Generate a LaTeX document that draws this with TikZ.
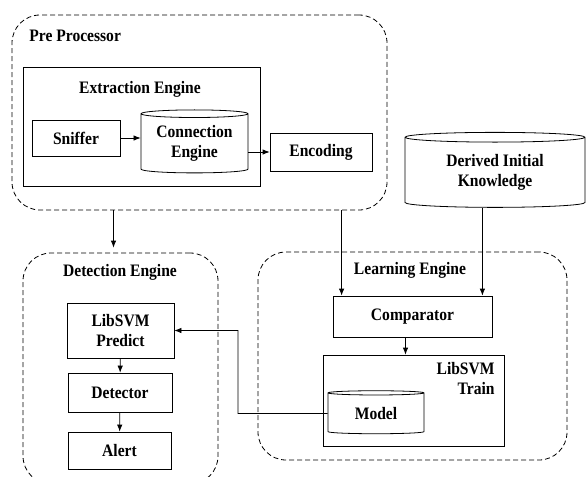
\documentclass[tikz,border=0pt]{standalone}
\usepackage{fontspec}
\setmainfont[FakeStretch=0.89]{Liberation Serif}
\usepackage{tikz}
\usetikzlibrary{shapes.geometric,arrows.meta,calc,positioning}
\tikzstyle{group} = [rectangle, draw, dashed, dash pattern=on 5pt off 3pt, rounded corners=28pt, inner sep=0pt]
\tikzstyle{block} = [rectangle, draw, text centered, align=center, inner sep=0pt]
\tikzstyle{store} = [cylinder, shape border rotate=90, draw, aspect=0.1, text centered, align=center, inner sep=0pt]
\tikzstyle{title} = [inner sep=0pt]
\tikzstyle{line} = [draw, -{Latex[length=7pt,width=5.5pt]}]

\begin{document}
\begin{tikzpicture}[x=1pt, y=-1pt, line width=0.8pt, font=\fontsize{17.5}{20}\selectfont\bfseries]
\useasboundingbox (0,0) rectangle (587,477);
% containers
\node [group, minimum width=375, minimum height=195] (pre) at (199.5,112.5) {};
\node [title, anchor=west] (pretitle) at (29,36) {Pre Processor};
\node [block, minimum width=237, minimum height=119] (extract) at (141.5,126.5) {};
\node [title] (extitle) at (140,89) {Extraction Engine};
\node [group, minimum width=195, minimum height=231] (detect) at (120.5,368.5) {};
\node [title] (dettitle) at (120,272) {Detection Engine};
\node [group, minimum width=309, minimum height=208] (learn) at (412.5,356) {};
\node [title] (learntitle) at (410,270) {Learning Engine};
\node [block, minimum width=181, minimum height=91] (train) at (413.5,400.5) {};
\node [title, align=right, anchor=north east] (traintitle) at (495,362) {LibSVM\\Train};

% pre processor
\node [block, minimum width=88, minimum height=36] (sniffer) at (76,138) {Sniffer};
\node [store, minimum width=107, minimum height=63] (conn) at (194.5,143.5) {Connection\\Engine};
\node [block, minimum width=102, minimum height=38] (encoding) at (321,152) {Encoding};
\node [store, minimum width=180, minimum height=75] (dik) at (495,172.5) {Derived Initial\\Knowledge};

% detection engine
\node [block, minimum width=107, minimum height=55] (predict) at (120.5,330.5) {LibSVM\\Predict};
\node [block, minimum width=104, minimum height=39] (detector) at (120,392.5) {Detector};
\node [block, minimum width=103, minimum height=37] (alert) at (119.5,450.5) {Alert};

% learning engine
\node [block, minimum width=159, minimum height=41] (comp) at (412.5,316.5) {Comparator};
\node [store, minimum width=96, minimum height=43] (model) at (376,413.5) {Model};

\path [line] (sniffer.east) -- (sniffer.east -| conn.west);
\path [line] (conn.east |- encoding.west) -- (encoding.west);
\coordinate (d1) at ($(detect.north)+(-7,-5)$);
\path [line] (pre.south -| d1) -- (d1);
\coordinate (c1) at ($(comp.north west)+(9,0)$);
\coordinate (c2) at ($(comp.north east)+(-10,0)$);
\path [line] (pre.south -| c1) -- (c1);
\path [line] (dik.south -| c2) -- (c2);
\coordinate (c3) at ($(comp.south)+(-7,0)$);
\path [line] (c3) -- (c3 |- train.north);
\path [line] (predict) -- (detector);
\path [line] (detector) -- (alert);
\coordinate (bend) at (238,413.5);
\path [line] (model.west) -- (bend) |- (predict.east);
\end{tikzpicture}
\end{document}
